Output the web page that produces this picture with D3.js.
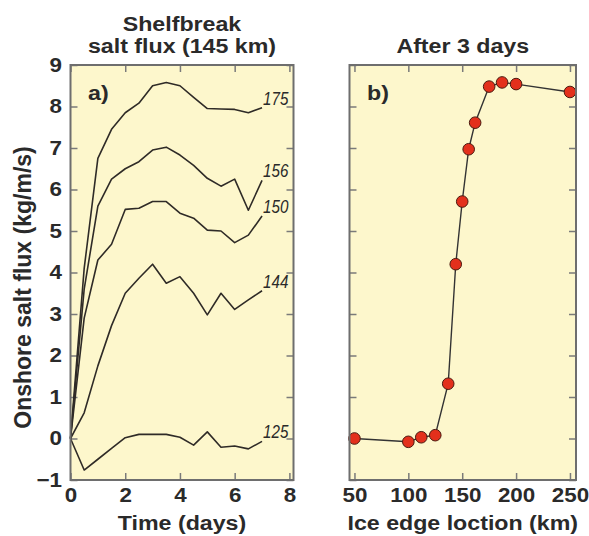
<!DOCTYPE html>
<html>
<head>
<meta charset="utf-8">
<script src="https://cdn.jsdelivr.net/npm/d3@7"></script>
<style>
  html, body { margin: 0; padding: 0; background: #ffffff; }
  svg text { font-family: "Liberation Sans", Arial, sans-serif; fill: #2a2a2a; }
</style>
</head>
<body>
<svg id="chart" width="589" height="536"></svg>
<script>
// ---------- data ----------
const timeDays = [0, 0.5, 1, 1.5, 2, 2.5, 3, 3.5, 4, 4.5, 5, 5.5, 6, 6.5, 7];
const seriesNames = ["175", "156", "150", "144", "125"];
const flux175 = [0, 4.1, 6.75, 7.45, 7.85, 8.08, 8.5, 8.58, 8.5, 8.22, 7.95, 7.94, 7.93, 7.85, 7.97];
const flux156 = [0, 3.6, 5.6, 6.25, 6.5, 6.67, 6.95, 7.02, 6.83, 6.58, 6.27, 6.08, 6.25, 5.5, 6.22];
const flux150 = [0, 2.9, 4.3, 4.68, 5.52, 5.55, 5.71, 5.71, 5.43, 5.31, 5.02, 5.0, 4.72, 4.9, 5.36];
const flux144 = [0, 0.62, 1.75, 2.72, 3.5, 3.86, 4.2, 3.74, 3.9, 3.5, 2.98, 3.5, 3.11, 3.34, 3.56];
const flux125 = [0, -0.76, -0.5, -0.24, 0.02, 0.1, 0.1, 0.1, 0.03, -0.16, 0.16, -0.21, -0.18, -0.25, -0.07];
const seriesValues = [flux175, flux156, flux150, flux144, flux125];

const iceEdgeKm = [50, 100, 112, 125, 137, 144, 150, 156, 162, 175, 187, 200, 250];
const fluxAfter3Days = [0.0, -0.08, 0.03, 0.08, 1.32, 4.2, 5.71, 6.97, 7.61, 8.48, 8.58, 8.54, 8.35];

const yTicks = [-1, 0, 1, 2, 3, 4, 5, 6, 7, 8, 9];
const xTicksA = [0, 2, 4, 6, 8];
const xTicksB = [50, 100, 150, 200, 250];

// ---------- layout ----------
const SX = 1.16; // horizontal stretch of the lettering
const svg = d3.select("#chart");
const plotTop = 65, plotBottom = 480;
const A = { left: 70.5, right: 293.5 };
const B = { left: 349.5, right: 576 };

const y = d3.scaleLinear().domain([-1, 9]).range([plotBottom, plotTop]);
const xA = d3.scaleLinear().domain([0, 8.15]).range([A.left, A.right]);
const xB = d3.scaleLinear().domain([45.4, 255.6]).range([B.left, B.right]);

const plotFill = "#fdf7cc";
const frameColor = "#6e6e6e";
const tickColor = "#7a7a7a";

function stretch(sel, sx) {
  sel.each(function () {
    const t = d3.select(this);
    const x = +t.attr("x") || 0;
    const yy = +t.attr("y") || 0;
    t.attr("x", 0).attr("y", 0)
     .attr("transform", `translate(${x},${yy}) scale(${sx},1)`);
  });
}

function panelBackground(P) {
  svg.append("rect")
    .attr("x", P.left).attr("y", plotTop)
    .attr("width", P.right - P.left).attr("height", plotBottom - plotTop)
    .attr("fill", plotFill);
}

function styleAxis(g) {
  g.select(".domain").remove();
  g.selectAll(".tick line").attr("stroke", tickColor).attr("stroke-width", 1.5);
  g.selectAll(".tick text")
    .attr("font-size", "20px").attr("font-weight", "bold").attr("fill", "#2a2a2a");
}

function axes(P, xs, xTicks, showY) {
  const tl = 7;
  const gb = svg.append("g").attr("transform", `translate(0,${plotBottom})`)
    .call(d3.axisBottom(xs).tickValues(xTicks).tickSizeInner(-tl).tickSizeOuter(0).tickPadding(8));
  styleAxis(gb);
  stretch(gb.selectAll(".tick text"), 1.12);

  const gt = svg.append("g").attr("transform", `translate(0,${plotTop})`)
    .call(d3.axisTop(xs).tickValues(xTicks).tickSizeInner(-tl).tickSizeOuter(0).tickFormat(""));
  styleAxis(gt);

  const gl = svg.append("g").attr("transform", `translate(${P.left},0)`)
    .call(d3.axisLeft(y).tickValues(yTicks).tickSizeInner(-tl).tickSizeOuter(0)
      .tickPadding(8.5).tickFormat(showY ? d3.format("d") : ""));
  styleAxis(gl);
  if (showY) {
    gl.selectAll(".tick text").attr("x", -8.5);
    stretch(gl.selectAll(".tick text"), 1.12);
  }

  const gr = svg.append("g").attr("transform", `translate(${P.right},0)`)
    .call(d3.axisRight(y).tickValues(yTicks).tickSizeInner(-tl).tickSizeOuter(0).tickFormat(""));
  styleAxis(gr);
}

function frame(P) {
  svg.append("rect")
    .attr("x", P.left).attr("y", plotTop)
    .attr("width", P.right - P.left).attr("height", plotBottom - plotTop)
    .attr("fill", "none").attr("stroke", frameColor).attr("stroke-width", 2);
}

// ---------- panel a ----------
panelBackground(A);
axes(A, xA, xTicksA, true);

const lineA = d3.line().x((d, i) => xA(timeDays[i])).y(d => y(d));
seriesValues.forEach((vals, k) => {
  svg.append("path")
    .attr("d", lineA(vals))
    .attr("fill", "none")
    .attr("stroke", "#2f2b27")
    .attr("stroke-width", 1.6)
    .attr("stroke-linejoin", "round");
  const last = vals[vals.length - 1];
  const lbl = svg.append("text")
    .attr("x", xA(timeDays[timeDays.length - 1]) + 1)
    .attr("y", y(last) - 3)
    .attr("font-size", "19px")
    .attr("font-style", "italic")
    .text(seriesNames[k]);
  stretch(lbl, 0.8);
});
frame(A);

// ---------- panel b ----------
panelBackground(B);
axes(B, xB, xTicksB, false);

const lineB = d3.line().x((d, i) => xB(iceEdgeKm[i])).y(d => y(d));
svg.append("path")
  .attr("d", lineB(fluxAfter3Days))
  .attr("fill", "none")
  .attr("stroke", "#333")
  .attr("stroke-width", 1.4);
svg.selectAll("circle.pt")
  .data(fluxAfter3Days)
  .enter().append("circle")
  .attr("class", "pt")
  .attr("cx", (d, i) => xB(iceEdgeKm[i]))
  .attr("cy", d => y(d))
  .attr("r", 5.8)
  .attr("fill", "#e3301c")
  .attr("stroke", "#4a1a10")
  .attr("stroke-width", 1);
frame(B);

// ---------- texts ----------
function boldText(x, yy, str, size, anchor) {
  const t = svg.append("text")
    .attr("x", x).attr("y", yy)
    .attr("font-size", size + "px")
    .attr("font-weight", "bold")
    .attr("text-anchor", anchor || "middle")
    .text(str);
  stretch(t, SX);
  return t;
}

boldText((A.left + A.right) / 2, 31, "Shelfbreak", 20);
boldText((A.left + A.right) / 2, 53, "salt flux (145 km)", 20);
boldText((B.left + B.right) / 2, 53, "After 3 days", 20);

boldText(88, 100, "a)", 20, "start");
boldText(367, 100, "b)", 20, "start");

boldText((A.left + A.right) / 2, 530, "Time (days)", 20);
boldText((B.left + B.right) / 2, 530, "Ice edge loction (km)", 20);

svg.append("text")
  .attr("transform", `translate(31,${(132 + 443) / 2}) rotate(-90)`)
  .attr("text-anchor", "middle")
  .attr("font-size", "23px")
  .attr("font-weight", "bold")
  .text("Onshore salt flux (kg/m/s)");
</script>
</body>
</html>
